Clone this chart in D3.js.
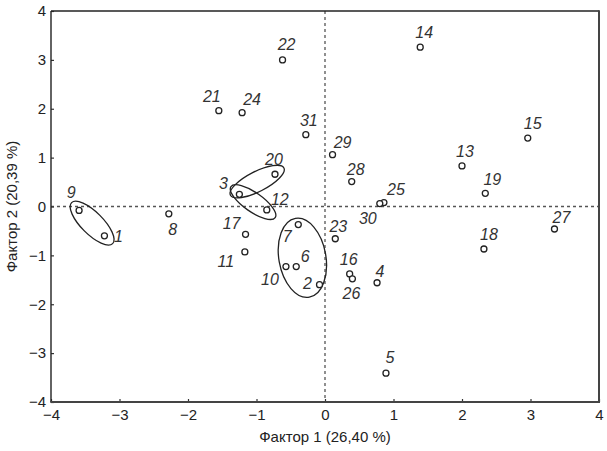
<!DOCTYPE html>
<html>
<head>
<meta charset="utf-8">
<script src="https://cdn.jsdelivr.net/npm/d3@7"></script>
<style>
  html, body { margin: 0; padding: 0; background: #fff; }
  svg { display: block; }
</style>
</head>
<body>
<svg id="chart" width="607" height="451"></svg>
<script>
// ---- data ----
const pointIds = [1,2,3,4,5,6,7,8,9,10,11,12,13,14,15,16,17,18,19,20,21,22,23,24,25,26,27,28,29,30,31];
const factor1 = [-3.22,-0.08,-1.25,0.76,0.89,-0.42,-0.39,-2.28,-3.59,-0.57,-1.17,-0.85,2.00,1.39,2.96,0.36,-1.16,2.32,2.34,-0.73,-1.55,-0.62,0.15,-1.21,0.86,0.40,3.35,0.39,0.11,0.80,-0.28];
const factor2 = [-0.60,-1.60,0.25,-1.56,-3.41,-1.23,-0.37,-0.15,-0.08,-1.23,-0.93,-0.07,0.83,3.26,1.40,-1.38,-0.57,-0.87,0.27,0.66,1.96,3.00,-0.66,1.92,0.08,-1.48,-0.46,0.51,1.06,0.06,1.47];
const xTicks = [-4,-3,-2,-1,0,1,2,3,4];
const yTicks = [-4,-3,-2,-1,0,1,2,3,4];
const xTitle = "Фактор 1 (26,40 %)";
const yTitle = "Фактор 2 (20,39 %)";

// ---- layout (label offsets in px, ellipse groups) ----
const labelOffset = {
  1:[14,0], 2:[-12,-1], 3:[-16,-11], 4:[3,-12], 5:[4,-16], 6:[9,-10], 7:[-11,12],
  8:[4,15], 9:[-8,-18], 10:[-16,13], 11:[-19,9], 12:[13,-11], 13:[3,-15], 14:[4,-15],
  15:[5,-15], 16:[-1,-15], 17:[-14,-11], 18:[5,-15], 19:[7,-14], 20:[-1,-15],
  21:[-7,-14], 22:[4,-16], 23:[3,-13], 24:[10,-13], 25:[12,-13], 26:[-1,14],
  27:[7,-12], 28:[4,-12], 29:[10,-12], 30:[-12,15], 31:[3,-14]
};
const ellipses = [
  {cx:-3.40, cy:-0.34, rx:29, ry:11, angle:45},
  {cx:-0.99, cy:0.51, rx:30, ry:10, angle:-27},
  {cx:-1.05, cy:0.09, rx:27, ry:9.5, angle:35},
  {cx:-0.33, cy:-1.05, rx:23.5, ry:40, angle:-10}
];

const svg = d3.select("#chart");
const x = d3.scaleLinear().domain([-4,4]).range([51,599]);
const y = d3.scaleLinear().domain([-4,4]).range([402,11]);
const fmt = d3.format("d");
const font = "'Liberation Sans', Arial, sans-serif";

// zero reference lines
svg.append("line").attr("x1", x(0)).attr("x2", x(0)).attr("y1", y(4)).attr("y2", y(-4))
  .attr("stroke", "#555").attr("stroke-width", 1.3).attr("stroke-dasharray", "3,3");
svg.append("line").attr("x1", x(-4)).attr("x2", x(4)).attr("y1", y(0)).attr("y2", y(0))
  .attr("stroke", "#555").attr("stroke-width", 1.3).attr("stroke-dasharray", "3,3");

// axes
const xAxis = svg.append("g").attr("transform", `translate(0,${y(-4)})`)
  .call(d3.axisBottom(x).tickValues(xTicks).tickFormat(fmt).tickSizeInner(-3).tickSizeOuter(0).tickPadding(7));
const yAxis = svg.append("g").attr("transform", `translate(${x(-4)},0)`)
  .call(d3.axisLeft(y).tickValues(yTicks).tickFormat(fmt).tickSizeInner(-3).tickSizeOuter(0).tickPadding(5));
[xAxis, yAxis].forEach(g => {
  g.select(".domain").remove();
  g.selectAll(".tick line").attr("stroke", "#333").attr("stroke-width", 1.2);
  g.selectAll(".tick text").attr("fill", "#222").style("font-family", font).style("font-size", "15px");
});
xAxis.selectAll(".tick text").attr("dy", "0.71em");

// frame
svg.append("line").attr("x1", x(-4)).attr("x2", x(4)).attr("y1", y(4)).attr("y2", y(4)).attr("stroke", "#222").attr("stroke-width", 1.4);
svg.append("line").attr("x1", x(-4)).attr("x2", x(-4)).attr("y1", y(4)).attr("y2", y(-4)).attr("stroke", "#222").attr("stroke-width", 1.4);
svg.append("line").attr("x1", x(4)).attr("x2", x(4)).attr("y1", y(4) - 0.7).attr("y2", y(-4) + 1).attr("stroke", "#444").attr("stroke-width", 2);
svg.append("line").attr("x1", x(-4) - 0.7).attr("x2", x(4) + 1).attr("y1", y(-4)).attr("y2", y(-4)).attr("stroke", "#444").attr("stroke-width", 2);

// axis titles
svg.append("text").attr("x", x(0)).attr("y", 442).attr("text-anchor", "middle")
  .style("font-family", font).style("font-size", "15px").attr("fill", "#222").text(xTitle);
svg.append("text").attr("transform", `translate(17,${y(0)}) rotate(-90)`).attr("text-anchor", "middle")
  .style("font-family", font).style("font-size", "15px").attr("fill", "#222").text(yTitle);

// ellipses
svg.append("g").selectAll("ellipse").data(ellipses).join("ellipse")
  .attr("transform", d => `translate(${x(d.cx)},${y(d.cy)}) rotate(${d.angle})`)
  .attr("rx", d => d.rx).attr("ry", d => d.ry)
  .attr("fill", "none").attr("stroke", "#222").attr("stroke-width", 1.3);

// points
const pts = pointIds.map((id, i) => ({id, f1: factor1[i], f2: factor2[i]}));
svg.append("g").selectAll("circle").data(pts).join("circle")
  .attr("cx", d => x(d.f1)).attr("cy", d => y(d.f2)).attr("r", 3)
  .attr("fill", "#fff").attr("stroke", "#222").attr("stroke-width", 1.3);

// labels
svg.append("g").selectAll("text").data(pts).join("text")
  .attr("x", d => x(d.f1) + labelOffset[d.id][0])
  .attr("y", d => y(d.f2) + labelOffset[d.id][1])
  .attr("text-anchor", "middle").attr("dy", "0.36em")
  .style("font-family", font).style("font-size", "16px").style("font-style", "italic")
  .attr("fill", "#333").text(d => d.id);
</script>
</body>
</html>
